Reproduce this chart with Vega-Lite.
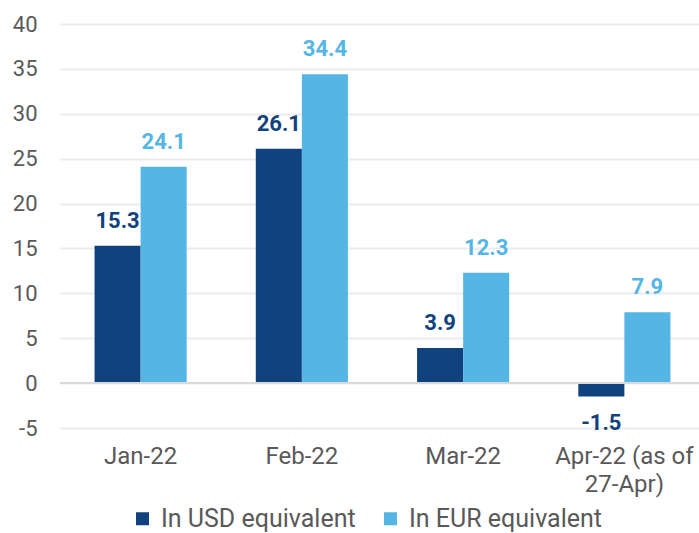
{
  "$schema": "https://vega.github.io/schema/vega-lite/v6.json",
  "width": 645,
  "height": 404,
  "autosize": {"type": "none"},
  "padding": {"left": 60, "top": 24, "right": 0, "bottom": 105},
  "config": {
    "view": {"stroke": null},
    "font": "Roboto",
    "axis": {"labelFont": "Roboto", "labelColor": "#595959"},
    "legend": {"labelFont": "Roboto", "labelFontSize": 25, "labelColor": "#595959", "labelLimit": 0}
  },
  "data": {
    "values": [
      {"month": "Jan-22", "series": "In USD equivalent", "value": 15.3},
      {"month": "Jan-22", "series": "In EUR equivalent", "value": 24.1},
      {"month": "Feb-22", "series": "In USD equivalent", "value": 26.1},
      {"month": "Feb-22", "series": "In EUR equivalent", "value": 34.4},
      {"month": "Mar-22", "series": "In USD equivalent", "value": 3.9},
      {"month": "Mar-22", "series": "In EUR equivalent", "value": 12.3},
      {"month": "Apr-22 (as of 27-Apr)", "series": "In USD equivalent", "value": -1.5},
      {"month": "Apr-22 (as of 27-Apr)", "series": "In EUR equivalent", "value": 7.9}
    ]
  },
  "encoding": {
    "x": {
      "field": "month", "type": "nominal", "sort": null,
      "scale": {"paddingInner": 0, "paddingOuter": 0},
      "axis": {
        "title": null, "labelAngle": 0, "domain": false, "ticks": false, "grid": false,
        "labelFontSize": 24, "labelPadding": 16, "labelLineHeight": 28, "labelBaseline": "top",
        "labelExpr": "datum.value == 'Apr-22 (as of 27-Apr)' ? ['Apr-22 (as of', '27-Apr)'] : datum.value"
      }
    },
    "xOffset": {
      "field": "series", "type": "nominal", "sort": ["In USD equivalent", "In EUR equivalent"],
      "scale": {"paddingOuter": 0.75, "paddingInner": 0}
    },
    "y": {
      "field": "value", "type": "quantitative",
      "scale": {"domain": [-5, 40], "nice": false, "zero": false},
      "axis": {
        "title": null, "values": [-5, 0, 5, 10, 15, 20, 25, 30, 35, 40],
        "labelExpr": "datum.value + ''", "labelFontSize": 22,
        "domain": false, "ticks": false, "labelPadding": 23,
        "gridColor": "#ebebeb", "gridWidth": 2
      }
    }
  },
  "layer": [
    {
      "mark": {"type": "bar"},
      "encoding": {
        "color": {
          "field": "series", "type": "nominal",
          "sort": ["In USD equivalent", "In EUR equivalent"],
          "scale": {"domain": ["In USD equivalent", "In EUR equivalent"], "range": ["#10427e", "#55b6e6"]},
          "legend": {
            "title": null, "orient": "none", "direction": "horizontal",
            "legendX": 70, "legendY": 482, "symbolType": "square", "symbolSize": 169,
            "symbolStrokeWidth": 0, "columnPadding": 22, "labelOffset": 6
          }
        }
      }
    },
    {
      "mark": {"type": "rule", "color": "#d9d9d9", "strokeWidth": 2},
      "data": {"values": [{"z": 0}]},
      "encoding": {"y": {"field": "z", "type": "quantitative"}, "x": null, "xOffset": null}
    },
    {
      "transform": [{"filter": "datum.value >= 0"}],
      "mark": {"type": "text", "fontWeight": "bold", "fontSize": 22, "baseline": "bottom", "dy": -13},
      "encoding": {
        "text": {"field": "value", "type": "nominal"},
        "color": {"field": "series", "type": "nominal", "legend": null}
      }
    },
    {
      "transform": [{"filter": "datum.value < 0"}],
      "mark": {"type": "text", "fontWeight": "bold", "fontSize": 22, "baseline": "top", "dy": 16},
      "encoding": {
        "text": {"field": "value", "type": "nominal"},
        "color": {"field": "series", "type": "nominal", "legend": null}
      }
    }
  ]
}
